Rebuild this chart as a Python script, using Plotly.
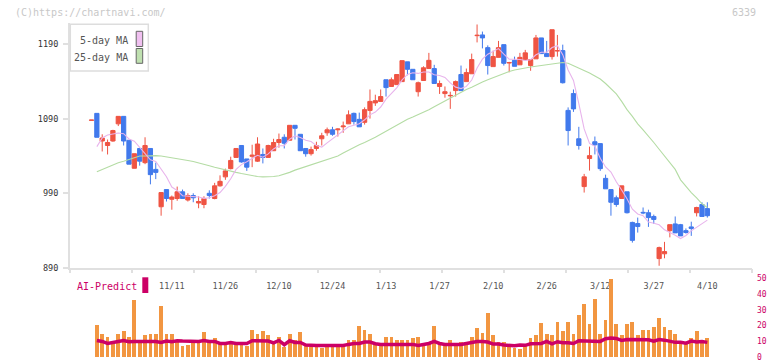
import numpy as np
import plotly.graph_objects as go

# ---------------- data ----------------
idx = list(range(116))

opens = [1087.7, 1097, 1060, 1054, 1060, 1083, 1093, 1061, 1023.5, 1050,
         1031, 1050, 1022, 972, 995, 982, 983, 992, 981, 987,
         977, 975, 990, 983, 1000, 1012, 1023, 1038, 1054, 1036,
         1039.5, 1033, 1042, 1038, 1047, 1058, 1065, 1061, 1081, 1069,
         1050, 1043, 1050, 1063, 1071, 1075, 1075, 1079, 1083, 1097,
         1089, 1085, 1101, 1111, 1113, 1142, 1133, 1135.5, 1139.5, 1166,
         1156, 1126, 1141, 1157, 1157, 1133, 1123.5, 1120.5, 1127.5, 1149,
         1139.5, 1150, 1201, 1202, 1185, 1159.6, 1172, 1189, 1164.5, 1168,
         1162, 1169, 1161, 1170, 1198, 1177, 1173, 1180.5, 1181, 1101,
         1123.5, 1063, 999, 1036.5, 1059, 1056.5, 1010, 995, 984, 983,
         992, 951, 949.5, 964.5, 964, 959, 902.6, 909, 940, 949,
         948, 940, 945, 964, 975, 969.5]

highs = [1088, 1097, 1069, 1062, 1075, 1093, 1093, 1061, 1043, 1050,
         1065, 1050, 1031, 991, 995, 987, 999, 995, 990, 990,
         986, 986, 994, 1004, 1014, 1023, 1039, 1050, 1054, 1036,
         1055, 1065, 1050, 1055, 1063, 1070, 1069, 1081, 1081, 1069,
         1050, 1052.5, 1059, 1071, 1078, 1079, 1077, 1086, 1101, 1098,
         1098, 1105, 1129, 1122, 1129, 1142, 1145, 1149, 1167.6, 1166,
         1156, 1139.5, 1160, 1178, 1162, 1141, 1133, 1126, 1141, 1161,
         1157, 1177, 1216, 1206.5, 1188, 1181, 1194, 1189, 1166, 1173,
         1178, 1182, 1169, 1202, 1198, 1194, 1209, 1202, 1189, 1105,
         1129, 1079, 1016, 1052.5, 1066, 1056.5, 1015, 995, 987, 1000,
         992, 952, 957.5, 971, 968, 961.5, 918.6, 925, 948, 959,
         949, 943, 952, 972, 978, 978]

lows = [1087.7, 1065, 1046, 1042, 1059, 1080, 1054, 1029, 1023.5, 1027,
        1029, 1002, 1009, 960, 979, 968, 980, 983, 979, 978,
        970, 970, 983, 982, 999, 1008, 1022, 1038, 1031, 1020,
        1025, 1032, 1030, 1038, 1047, 1051, 1050, 1061, 1062, 1047,
        1039, 1040.5, 1047, 1054, 1067, 1067, 1066, 1071, 1083, 1082,
        1079, 1082, 1090, 1107, 1113, 1119.5, 1133, 1135.5, 1139.5, 1148,
        1142, 1119.5, 1141, 1157, 1137, 1123, 1118, 1103, 1119.5, 1127.5,
        1139.5, 1150, 1192, 1184, 1149, 1159.6, 1172, 1161, 1152, 1160,
        1162, 1169, 1154, 1170, 1177, 1173, 1169, 1173, 1137, 1054,
        1099, 1048.5, 991, 1020.4, 1042, 1020, 996, 960, 972, 983,
        963, 924, 937.4, 962, 945, 949, 893, 903, 931, 937,
        933, 936, 933, 959, 959, 957.5]

closes = [1088, 1065, 1064, 1058, 1074, 1093, 1060, 1029, 1043, 1033,
          1054, 1015, 1018, 991, 983, 985, 992, 983, 987, 984,
          979, 983, 987, 1000, 1006, 1020, 1034, 1050, 1032, 1025,
          1041, 1056, 1038, 1054, 1058, 1062, 1057, 1081, 1077, 1047,
          1043, 1048.5, 1054, 1067, 1075, 1069, 1076, 1080, 1095, 1086,
          1079, 1102, 1113, 1114, 1119.5, 1131.5, 1142, 1149, 1167.6, 1156,
          1142, 1138, 1158, 1168, 1137, 1137, 1126, 1121, 1139.5, 1127.5,
          1151.6, 1169, 1201.5, 1198, 1161, 1173, 1185, 1164, 1165, 1160,
          1172, 1178, 1169, 1198, 1177, 1173, 1209, 1181, 1138, 1074,
          1103, 1054, 1012, 1040.4, 1055, 1023, 996, 978, 975, 1000,
          964, 927, 945.5, 963.8, 957.5, 955, 917.3, 912, 948, 937,
          933, 937.5, 943, 971, 959, 960]

ma5 = [None, 1052.5, 1064, 1068, 1069.8, 1070.8, 1069.8, 1062.8, 1059.8, 1051.6,
       1043.8, 1034.8, 1032.6, 1022.2, 1012.2, 998.4, 993.8, 986.8, 986, 986.2,
       985, 983.2, 984, 986.6, 991, 999.2, 1009.4, 1022, 1028.4, 1032.2,
       1036.4, 1040.8, 1038.4, 1042.8, 1049.4, 1053.6, 1053.8, 1062.4, 1067, 1064.8,
       1061, 1059.3, 1053.9, 1051.9, 1057.5, 1062.7, 1068.2, 1073.4, 1079, 1081.2,
       1083.2, 1088.4, 1095, 1098.8, 1105.5, 1116, 1124, 1131.2, 1141.9, 1149.2,
       1151.3, 1150.5, 1152.3, 1152.4, 1148.6, 1147.6, 1145.2, 1137.8, 1132.1, 1130.2,
       1133.1, 1141.7, 1157.8, 1169.5, 1176.2, 1180.5, 1183.7, 1176.2, 1169.6, 1169.4,
       1169.2, 1167.8, 1168.8, 1175.4, 1178.8, 1179, 1185.2, 1187.6, 1175.6, 1155,
       1141, 1110, 1076.2, 1056.7, 1052.9, 1036.9, 1025.3, 1018.5, 1005.4, 994.4,
       982.6, 968.8, 962.3, 960.1, 951.6, 949.8, 947.8, 941.1, 938, 933.9,
       929.5, 933.5, 939.7, 944.3, 948.7, 954.1]

ma25 = [None, 1019, 1022, 1026, 1028, 1031, 1033, 1035, 1038, 1040,
        1040, 1040.5, 1040.5, 1040, 1039, 1038, 1037, 1035.5, 1034, 1032.5,
        1031, 1029, 1027, 1025, 1023, 1021, 1019.5, 1018, 1016.5, 1015,
        1013.5, 1012.5, 1012, 1012, 1012.4, 1013.5, 1015.5, 1018, 1021, 1023.5,
        1026, 1028.5, 1030.5, 1032.5, 1035, 1037.5, 1040, 1044, 1048, 1052,
        1055, 1058, 1061, 1065, 1069, 1073, 1077, 1081, 1086, 1089,
        1092, 1095, 1099, 1102, 1106, 1110, 1114, 1118, 1122, 1126,
        1129, 1132, 1136, 1139, 1142, 1145, 1148, 1150.5, 1153, 1155,
        1156.5, 1158, 1159, 1160, 1161, 1161, 1163, 1164, 1165, 1164,
        1161, 1157, 1154, 1151, 1147, 1143, 1137, 1130, 1123, 1113,
        1102, 1093, 1083, 1075, 1067, 1058, 1049, 1040, 1030, 1022,
        1008, 999, 991, 984, 976, 971]

volume = [None, 20.6, 14.3, 13.0, 8.6, 14.9, 16.4, 12.4, 35.9, 11.1,
          13.7, 14.3, 14.3, 32.7, 14.3, 14.3, 11.1, 6.9, 7.6, 9.4,
          11.1, 15.7, 10.1, 11.8, 8.0, 8.0, 9.4, 8.0, 8.0, 6.9,
          17.0, 14.3, 16.4, 13.7, 8.0, 13.0, 6.1, 14.9, 11.1, 15.7,
          7.6, 6.1, 7.6, 5.5, 7.6, 7.6, 7.6, 7.6, 11.1, 10.5,
          20.0, 17.4, 14.3, 8.6, 7.6, 12.4, 13.0, 10.5, 10.5, 11.1,
          11.8, 12.4, 7.6, 9.8, 20.0, 8.6, 7.6, 10.5, 7.6, 9.8,
          7.6, 12.4, 18.7, 15.4, 28.1, 13.7, 9.8, 9.8, 6.9, 5.9,
          5.3, 6.9, 11.8, 13.7, 21.7, 14.9, 13.7, 22.5, 16.4, 22.5,
          14.9, 26.9, 33.8, 21.2, 37.0, 14.3, 23.7, 49.6, 21.2, 13.7,
          21.2, 22.0, 13.7, 17.0, 17.4, 19.3, 25.0, 19.3, 17.4, 14.3,
          8.0, 8.0, 11.8, 16.8, 11.1, 11.8]

ai_predict = [None, 10.5, 9.9, 8.6, 9.0, 9.9, 10.5, 9.7, 9.9, 9.9,
              9.5, 9.9, 9.9, 9.2, 10.1, 9.7, 10.3, 10.1, 9.9, 9.9,
              9.9, 10.5, 9.9, 9.9, 8.6, 8.6, 9.2, 8.6, 8.6, 8.6,
              10.3, 10.1, 10.3, 10.1, 9.0, 10.5, 7.8, 10.3, 9.2, 9.2,
              7.6, 7.3, 7.3, 7.3, 7.3, 7.3, 7.3, 7.3, 8.0, 8.6,
              8.6, 9.5, 9.5, 8.4, 8.0, 8.0, 8.2, 8.0, 8.2, 8.0,
              8.0, 7.3, 7.8, 8.6, 9.9, 8.6, 8.0, 8.0, 8.0, 8.0,
              8.6, 9.5, 9.9, 9.9, 9.5, 8.2, 8.2, 7.6, 7.2, 7.2,
              7.6, 7.4, 8.4, 8.4, 8.6, 9.9, 8.4, 9.7, 9.0, 9.0,
              8.6, 10.3, 10.1, 9.9, 9.9, 9.9, 11.6, 12.0, 11.8, 10.5,
              11.1, 11.1, 10.9, 10.9, 10.9, 10.1, 11.1, 10.7, 9.9, 9.3,
              9.3, 8.8, 10.1, 9.5, 9.9, 9.3]

date_tick_pos = [15, 25, 35, 45, 55, 65, 75, 85, 95, 105, 115]
date_tick_text = ["11/11", "11/26", "12/10", "12/24", "1/13", "1/27",
                  "2/10", "2/26", "3/12", "3/27", "4/10"]
price_ticks = [890, 990, 1090, 1190]
vol_ticks = [0, 10, 20, 30, 40, 50]

# ---------------- styling ----------------
RED = "#ef5443"
BLUE = "#4179ec"
PINK = "#e8b4ec"
GREEN = "#b4dca4"
ORANGE = "#f29641"
MAGENTA = "#cc0066"
AXIS = "#e0e0e0"
MONO = "DejaVu Sans Mono"

W, H = 772, 361
ML, MR, MT, MB = 70, 20, 23, 4
PW, PH = W - ML - MR, H - MT - MB


def px(xp):
    return (xp - ML) / PW


def py(yp):
    return 1 - (yp - MT) / PH


X_RANGE = [-4.015, 123.34]

fig = go.Figure()

fig.add_trace(go.Candlestick(
    x=idx, open=opens, high=highs, low=lows, close=closes,
    increasing=dict(line=dict(color=RED, width=1), fillcolor=RED),
    decreasing=dict(line=dict(color=BLUE, width=1), fillcolor=BLUE),
    whiskerwidth=0, showlegend=False, hoverinfo="skip",
    xaxis="x", yaxis="y"))

fig.add_trace(go.Scatter(x=idx, y=ma25, mode="lines",
                         line=dict(color=GREEN, width=1.1),
                         showlegend=False, hoverinfo="skip", xaxis="x", yaxis="y"))
fig.add_trace(go.Scatter(x=idx, y=ma5, mode="lines",
                         line=dict(color=PINK, width=1.1),
                         showlegend=False, hoverinfo="skip", xaxis="x", yaxis="y"))

fig.add_trace(go.Bar(x=idx, y=volume, width=0.7, marker=dict(color=ORANGE, line=dict(width=0)),
                     showlegend=False, hoverinfo="skip", xaxis="x", yaxis="y2"))
fig.add_trace(go.Scatter(x=idx, y=ai_predict, mode="lines",
                         line=dict(color=MAGENTA, width=3.5),
                         showlegend=False, hoverinfo="skip", xaxis="x", yaxis="y2"))

# dummy trace for the tick-mark overlay axis
fig.add_trace(go.Scatter(x=[X_RANGE[0]], y=[None], mode="markers", xaxis="x2", yaxis="y",
                         showlegend=False, hoverinfo="skip", marker=dict(opacity=0)))

main_bottom = py(268)
vol_top = py(278.3)

fig.update_layout(
    width=W, height=H,
    margin=dict(l=ML, r=MR, t=MT, b=MB, autoexpand=False),
    paper_bgcolor="white", plot_bgcolor="white",
    showlegend=False,
    boxgap=0.12, boxgroupgap=0.1,
    bargap=0,
    font=dict(family=MONO, size=8, color="#444"),
    xaxis=dict(range=X_RANGE, anchor="y", showgrid=False, zeroline=False, automargin=False,
               showline=True, linecolor=AXIS, linewidth=2,
               tickmode="array", tickvals=date_tick_pos, ticktext=date_tick_text,
               ticks="", ticklabelstandoff=9,
               tickfont=dict(family=MONO, size=8.5, color="#555"),
               rangeslider=dict(visible=False), fixedrange=True),
    xaxis2=dict(range=X_RANGE, overlaying="x", anchor="y", showgrid=False, zeroline=False,
                automargin=False, showline=False, showticklabels=False,
                tickmode="array", tickvals=list(np.linspace(X_RANGE[0], X_RANGE[1], 12)),
                ticks="outside", ticklen=4, tickwidth=2, tickcolor=AXIS),
    yaxis=dict(domain=[main_bottom, 1], range=[890, 890 + (268 - MT) / 0.747],
               anchor="x", showgrid=False, zeroline=False, automargin=False,
               showline=True, linecolor=AXIS, linewidth=2,
               tickmode="array", tickvals=price_ticks,
               ticks="outside", ticklen=5, tickwidth=2, tickcolor=AXIS,
               ticklabelstandoff=3,
               tickfont=dict(family=MONO, size=8.5, color="#333")),
    yaxis2=dict(domain=[0, vol_top], range=[0, 50], anchor="x", side="right",
                showgrid=False, zeroline=False, showline=False, automargin=False,
                tickmode="array", tickvals=vol_ticks, ticks="",
                ticklabelstandoff=4, ticklabeloverflow="allow",
                tickfont=dict(family=MONO, size=8, color=MAGENTA)),
)

# legend box
fig.add_shape(type="rect", xref="paper", yref="paper",
              x0=px(70.3), x1=px(148.3), y0=py(71), y1=py(24.3),
              line=dict(color="#dddddd", width=1.5), fillcolor="white", layer="above")
fig.add_shape(type="rect", xref="paper", yref="paper",
              x0=px(136.2), x1=px(142.7), y0=py(46.5), y1=py(31.3),
              line=dict(color="#666666", width=1), fillcolor="#f0c0f0", layer="above")
fig.add_shape(type="rect", xref="paper", yref="paper",
              x0=px(136.2), x1=px(142.7), y0=py(63.3), y1=py(48.5),
              line=dict(color="#666666", width=1), fillcolor="#bfe0b0", layer="above")
fig.add_annotation(x=px(130), y=py(40.7), xref="paper", yref="paper",
                   text="5-day MA", showarrow=False, xanchor="right", yanchor="middle",
                   font=dict(family=MONO, size=10, color="#555"))
fig.add_annotation(x=px(130), y=py(57.3), xref="paper", yref="paper",
                   text="25-day MA", showarrow=False, xanchor="right", yanchor="middle",
                   font=dict(family=MONO, size=10, color="#555"))

# AI-Predict label
fig.add_annotation(x=px(75), y=py(286.5), xref="paper", yref="paper",
                   text="AI-Predict", showarrow=False, xanchor="left", yanchor="middle",
                   font=dict(family=MONO, size=10, color=MAGENTA))
fig.add_shape(type="rect", xref="paper", yref="paper",
              x0=px(142.3), x1=px(148.3), y0=py(293), y1=py(277.3),
              line=dict(width=0), fillcolor=MAGENTA, layer="above")

# watermark / code
fig.add_annotation(x=px(13), y=py(12.5), xref="paper", yref="paper",
                   text="(C)https://chartnavi.com/", showarrow=False,
                   xanchor="left", yanchor="middle",
                   font=dict(family=MONO, size=10, color="#c8c8c8"))
fig.add_annotation(x=px(758), y=py(12.5), xref="paper", yref="paper",
                   text="6339", showarrow=False, xanchor="right", yanchor="middle",
                   font=dict(family=MONO, size=10, color="#c8c8c8"))

fig.write_html("out.html",
               config={"displayModeBar": False, "staticPlot": True},
               post_script="document.body.style.margin='0';document.body.style.overflow='hidden';")
